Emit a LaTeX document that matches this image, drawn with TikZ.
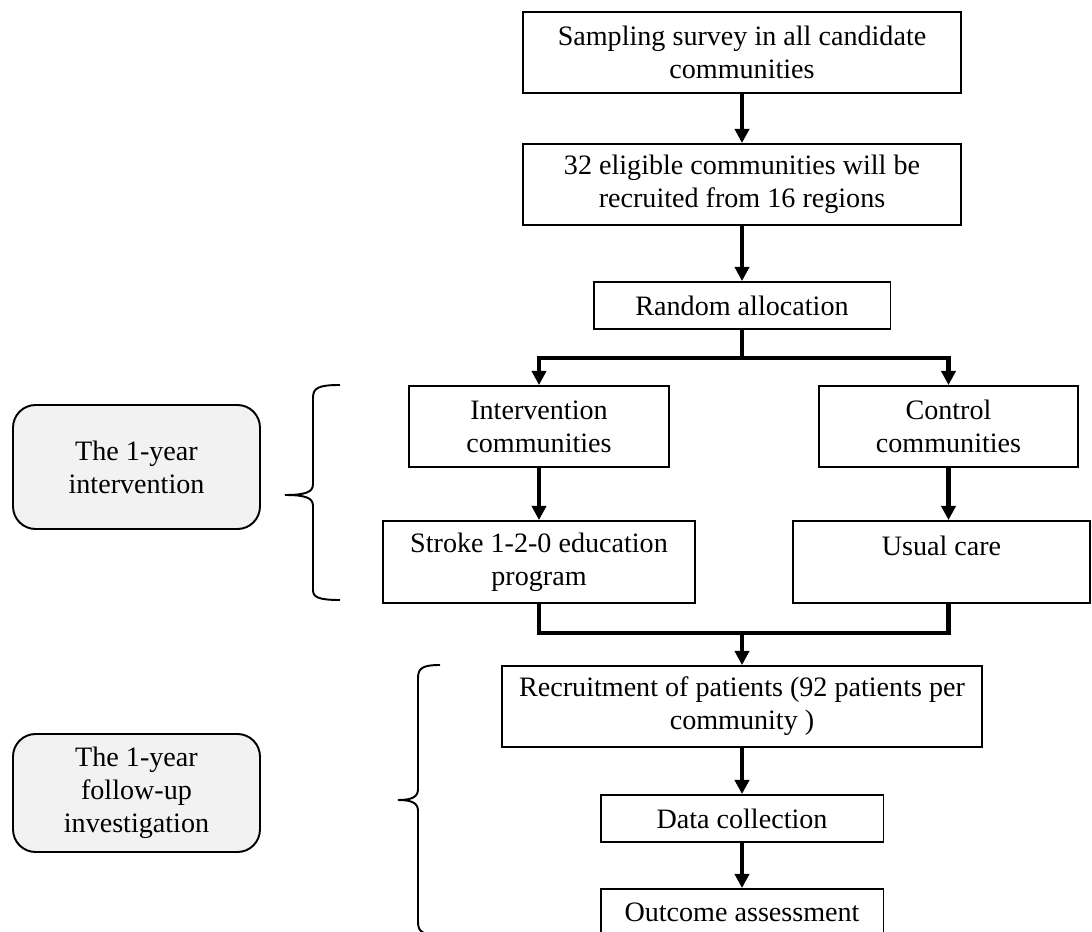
\documentclass[tikz,border=0pt]{standalone}
\usepackage{fontspec}
\setmainfont{Liberation Serif}
\usetikzlibrary{arrows.meta, positioning}
\definecolor{cpanel}{HTML}{F2F2F2}
\tikzset{
  every picture/.style={font=\fontsize{16}{18.7}\selectfont, line width=1.1pt},
  box/.style={draw=black, fill=white, align=center, inner sep=2pt},
  phase/.style={draw=black, fill=cpanel, rounded corners=0.45cm, align=center, minimum width=4.94cm},
  line/.style={draw=black, line width=2.4pt},
  arrow/.style={line, -{Triangle[length=8pt, width=8pt]}},
  brace/.style={draw=black, line width=1.1pt},
}

\begin{document}
\begin{tikzpicture}[x=0.02cm, y=-0.02cm]
  \clip (0,0) rectangle (1092,932);
  \useasboundingbox (0,0) rectangle (1092,932);
  % main flow
  \node[box, minimum width=8.76cm, minimum height=1.62cm] (samp) at (742,52.5) {Sampling survey in all candidate\\communities};
  \node[box, minimum width=8.76cm, minimum height=1.62cm] (elig) at (742,184.5) {32 eligible communities will be\\recruited from 16 regions};
  \node[box, minimum width=5.94cm, minimum height=0.94cm] (rand) at (742,305.5) {Random allocation};
  \node[box, minimum width=5.2cm, minimum height=1.62cm] (interv) at (539,426.5) {Intervention\\communities};
  \node[box, minimum width=5.18cm, minimum height=1.62cm] (ctrl) at (948.5,426.5) {Control\\communities};
  \node[box, minimum width=6.24cm, minimum height=1.64cm] (stroke) at (539,562) {Stroke 1-2-0 education\\program};
  \node[box, minimum width=5.94cm, minimum height=1.64cm] (usual) at (941.5,562) {Usual care\\~};
  \node[box, minimum width=9.62cm, minimum height=1.62cm] (recr) at (742,706.5) {Recruitment of patients (92 patients per\\community )};
  \node[box, minimum width=5.66cm, minimum height=0.94cm] (data) at (742,818.5) {Data collection};
  \node[box, minimum width=5.66cm, minimum height=0.94cm] (outc) at (742,912.5) {Outcome assessment};
  \coordinate (split) at (742,358);
  \coordinate (join) at (742,633);
  \draw[arrow] (samp) -- (elig);
  \draw[arrow] (elig) -- (rand);
  \draw[line] (rand.south) -- (split);
  \draw[arrow] (split) -| (interv.north);
  \draw[arrow] (split) -| (ctrl.north);
  \draw[arrow] (interv.south) -- (interv.south |- stroke.north);
  \draw[arrow] (ctrl.south) -- (ctrl.south |- usual.north);
  \draw[line] (stroke.south) |- (join);
  \draw[line] (usual.south -| ctrl.south) |- (join);
  \draw[arrow] (join) -- (recr.north);
  \draw[arrow] (recr) -- (data);
  \draw[arrow] (data) -- (outc);
  % phases on the left
  \node[phase, minimum height=2.48cm] (year1) at (136.5,467) {The 1-year\\intervention};
  \node[phase, minimum height=2.36cm] (year2) at (136.5,793) {The 1-year\\follow-up\\investigation};
  \draw[brace] (340,385) .. controls (318,385) and (313,388) .. (313,398) -- (313,484)
    .. controls (313,492) and (306,495) .. (285,495)
    .. controls (306,495) and (313,498) .. (313,506) -- (313,590)
    .. controls (313,597) and (318,600) .. (340,600);
  \draw[brace] (440,665) .. controls (423,665) and (418,668) .. (418,678) -- (418,789)
    .. controls (418,797) and (412,800) .. (398,800)
    .. controls (412,800) and (418,803) .. (418,811) -- (418,922)
    .. controls (418,932) and (423,935) .. (440,935);
\end{tikzpicture}
\end{document}
